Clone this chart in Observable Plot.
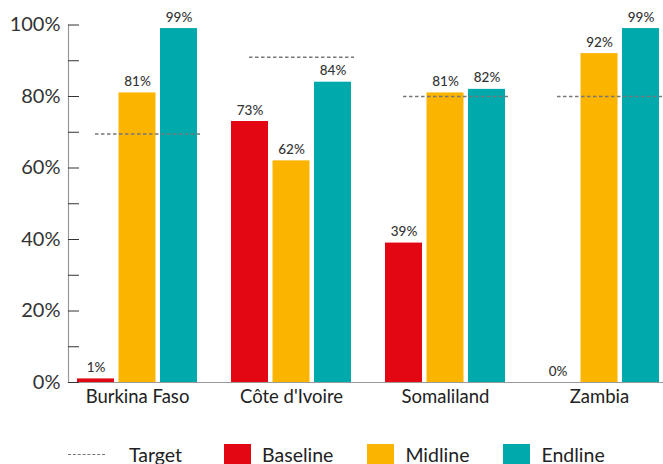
<!DOCTYPE html>
<html>
<head>
<meta charset="utf-8">
<script src="https://cdn.jsdelivr.net/npm/d3@7"></script>
<script src="https://cdn.jsdelivr.net/npm/@observablehq/plot@0.6"></script>
<style>
  body { margin: 0; background: #fff; font-family: Lato, "Noto Sans", sans-serif; }
  #legend { display: flex; align-items: center; height: 22px; margin-top: 28px; padding-left: 68px; font-size: 19.5px; color: #222; }
  #legend .dash { width: 37px; border-top: 1.3px dashed #777; margin-right: 24px; }
  #legend .sw { width: 27px; height: 21px; margin-right: 11px; }
  #legend .lab { margin-right: 34px; }
</style>
</head>
<body>
<div id="chart"></div>
<script>
const countries = ["Burkina Faso", "Côte d'Ivoire", "Somaliland", "Zambia"];
const seriesNames = ["Baseline", "Midline", "Endline"];
const baseline = [1, 73, 39, 0];
const midline = [81, 62, 81, 92];
const endline = [99, 84, 82, 99];
const target = [69.5, 91, 80, 80];
const yTicks = [0, 10, 20, 30, 40, 50, 60, 70, 80, 90, 100];
const yLabels = [0, 20, 40, 60, 80, 100];
const colors = ["#E30613", "#FBB400", "#00A9AC"];

const seriesValues = [baseline, midline, endline];
const data = countries.flatMap((c, i) => seriesNames.map((s, j) => ({country: c, series: s, value: seriesValues[j][i]})));
const targets = countries.map((c, i) => ({country: c, target: target[i]}));

const step = 41.5;
const marks = [];
seriesNames.forEach((s, j) => {
  const sub = data.filter(d => d.series === s);
  marks.push(Plot.barY(sub, {x: "country", y: "value", fill: colors[j], insetLeft: j * step, insetRight: (2 - j) * step}));
  marks.push(Plot.text(sub, {x: "country", y: "value", text: d => d.value + "%", dx: (j - 1) * step, dy: -7, lineAnchor: "bottom", fontSize: 13.5, fontWeight: 500, fill: "#333"}));
});

const chart = Plot.plot({
  width: 663,
  height: 415,
  marginLeft: 68,
  marginRight: 0,
  marginTop: 24.5,
  marginBottom: 33,
  style: {fontFamily: "Lato, 'Noto Sans', sans-serif", color: "#333", background: "#fff"},
  x: {domain: countries, range: [68, 668], paddingInner: 0.22, paddingOuter: 0.05, label: null},
  y: {domain: [0, 100], label: null},
  marks: [
    ...marks,
    Plot.tickY(targets, {x: "country", y: "target", stroke: "#777", strokeWidth: 1.5, strokeDasharray: "3.5,2.5", insetLeft: 18, insetRight: -3}),
    Plot.ruleY([0], {stroke: "#999", strokeWidth: 1.2}),
    Plot.frame({anchor: "left", stroke: "#999", strokeWidth: 1.2}),
    Plot.axisY({ticks: yTicks, tickSize: -11, tickFormat: () => "", stroke: "#333", label: null}),
    Plot.axisY({ticks: yLabels, tickSize: 0, tickPadding: 8, tickFormat: d => d + "%", fontSize: 20, fill: "#333", label: null}),
    Plot.axisX({tickSize: 0, tickPadding: 7, fontSize: 18.5, fill: "#222", label: null})
  ]
});
document.getElementById("chart").appendChild(chart);

const legend = document.createElement("div");
legend.id = "legend";
legend.innerHTML = `<span class="dash"></span><span class="lab" style="margin-right:42px">Target</span>` +
  seriesNames.map((s, j) => `<span class="sw" style="background:${colors[j]}"></span><span class="lab">${s}</span>`).join("");
document.body.appendChild(legend);
</script>
</body>
</html>
